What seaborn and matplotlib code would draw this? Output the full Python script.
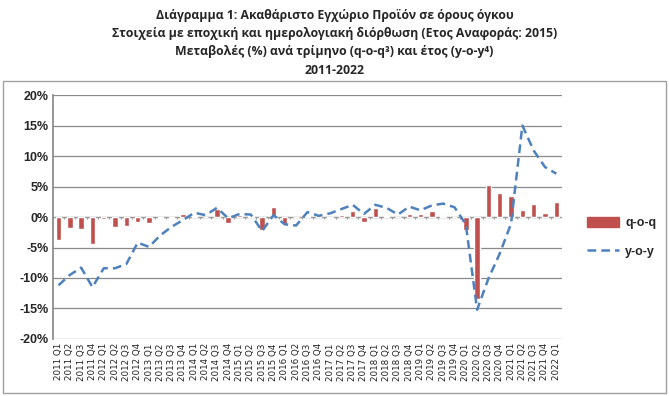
import numpy as np
import pandas as pd
import matplotlib.pyplot as plt
import seaborn as sns
from matplotlib.patches import Rectangle, Patch
from matplotlib.lines import Line2D

sns.set_theme(style="white")
plt.rcParams['font.family'] = ['Open Sans', 'DejaVu Sans']

years = [y for y in range(2011, 2022) for _ in range(4)] + [2022]
quarters = ["Q1", "Q2", "Q3", "Q4"] * 11 + ["Q1"]
labels = [f"{y} {q}" for y, q in zip(years, quarters)]

# q-o-q change (%)
qoq = [-3.8, -1.8, -2.0, -4.5, -0.3, -1.6, -1.5, -0.8, -1.0, -0.1, -0.1, 0.5,
       0.1, 0.0, 1.3, -1.0, 0.4, 0.1, -2.1, 1.7, -1.1, 0.0, 0.2, 0.5,
       -0.2, 0.4, 1.0, -0.8, 1.4, 0.1, 0.0, 0.5, 0.5, 1.0, 0.1, 0.0,
       -2.2, -13.5, 5.3, 4.0, 3.4, 1.2, 2.2, 0.7, 2.4]
# y-o-y change (%)
yoy = [-11.2, -9.5, -8.3, -11.5, -8.4, -8.4, -7.7, -4.2, -4.9, -3.0, -1.6, -0.5,
       0.7, 0.3, 1.5, -0.2, 0.5, 0.4, -2.3, 0.3, -1.2, -1.4, 0.8, 0.2,
       0.6, 1.3, 2.0, 0.5, 2.0, 1.5, 0.4, 1.7, 1.1, 1.9, 2.2, 1.6,
       -1.2, -15.2, -10.1, -6.0, -1.1, 15.0, 10.9, 8.2, 7.1]

df = pd.DataFrame({"quarter": labels, "pos": np.arange(len(labels)),
                   "qoq": np.array(qoq) / 100, "yoy": np.array(yoy) / 100})

red = "#C0504D"
blue = "#4F81BD"
dash = (0, (3.5, 2))

fig = plt.figure(figsize=(6.69, 3.96), dpi=100)
ax = fig.add_axes([0.079, 0.144, 0.761, 0.616])

sns.barplot(data=df, x="quarter", y="qoq", color=red, width=0.48,
            saturation=1, ax=ax, zorder=3)
sns.lineplot(data=df, x="pos", y="yoy", color=blue, lw=1.8, ax=ax, zorder=4)
ax.lines[-1].set_linestyle(dash)

ax.set_ylim(-0.2, 0.2)
ax.set_xlim(-0.5, len(labels) - 0.5)
yt = np.arange(-0.2, 0.201, 0.05)
ax.set_yticks(yt)
ax.set_yticklabels([f"{int(round(v * 100))}%" for v in yt],
                   fontsize=9, fontweight="bold", family=["Liberation Sans"])
ax.yaxis.grid(True, color="#8a8a8a", lw=0.9)
ax.set_axisbelow(True)
ax.set_xticks(np.arange(len(labels)))
ax.set_xticklabels(labels, rotation=90, fontsize=6.3, family=["DejaVu Sans"], color="#222222")
ax.tick_params(axis="both", length=0, pad=3)
ax.set_xlabel("")
ax.set_ylabel("")
for s in ["top", "right", "bottom"]:
    ax.spines[s].set_visible(False)
ax.spines["left"].set_color("#8a8a8a")

# category axis at zero with small tick marks
ax.axhline(0, color="#9a9a9a", lw=0.9, zorder=2)
ax.vlines(np.arange(-0.5, len(labels)), -0.004, 0, color="#9a9a9a", lw=0.8, zorder=2)

titles = ["Διάγραμμα 1: Ακαθάριστο Εγχώριο Προϊόν σε όρους όγκου",
          "Στοιχεία με εποχική και ημερολογιακή διόρθωση (Ετος Αναφοράς: 2015)",
          "Μεταβολές (%) ανά τρίμηνο (q-o-q³) και έτος (y-o-y⁴)",
          "2011-2022"]
for i, t in enumerate(titles):
    fig.text(0.5, 1 - (15 + i * 18.5) / 396, t, ha="center", va="center",
             fontsize=8.8, fontweight="bold")

fig.patches.append(Rectangle((3 / 669, 1 - 393 / 396), 663 / 669, 312 / 396,
                             transform=fig.transFigure, fill=False,
                             edgecolor="#a0a0a0", lw=1))

handles = [Patch(color=red), Line2D([], [], color=blue, lw=1.8, ls=dash)]
fig.legend(handles, ["q-o-q", "y-o-y"], loc="center left",
           bbox_to_anchor=(0.86, 0.40), frameon=False, handlelength=2.6,
           handleheight=0.9, labelspacing=1.3, handletextpad=0.5,
           prop={"size": 9, "weight": "bold", "family": "Liberation Sans"})

fig.savefig("out.png", dpi=100)
